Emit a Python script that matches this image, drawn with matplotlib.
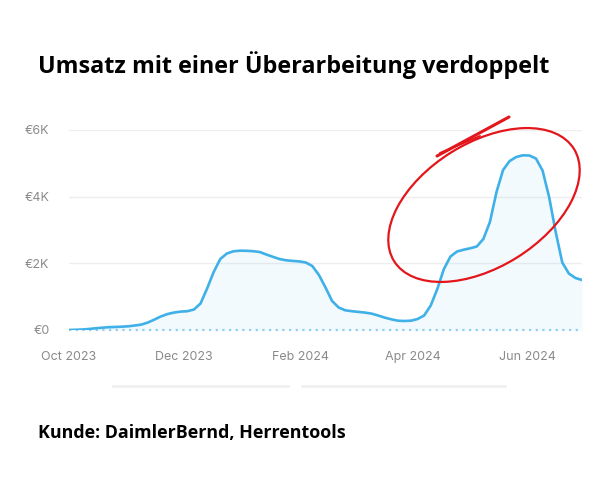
import pandas as pd
import matplotlib.pyplot as plt
from matplotlib.patches import Ellipse, Rectangle

start_date = "2023-10-01"
umsatz = [0, 6, 15, 30, 51, 69, 84, 90, 99, 111,
          135, 162, 225, 315, 408, 480, 525, 552, 564, 615,
          795, 1245, 1740, 2130, 2295, 2361, 2379, 2376, 2364, 2340,
          2265, 2196, 2130, 2091, 2073, 2058, 2025, 1920, 1650, 1275,
          870, 675, 591, 564, 543, 522, 492, 435, 372, 321,
          279, 270, 279, 330, 435, 735, 1230, 1830, 2205, 2355,
          2409, 2451, 2505, 2730, 3240, 4140, 4800, 5070, 5190, 5241,
          5235, 5145, 4785, 3990, 2940, 2025, 1695, 1560, 1500]
dates = pd.date_range(start_date, periods=len(umsatz), freq="84h")

y_ticks = [0, 2000, 4000, 6000]
y_labels = ["€0", "€2K", "€4K", "€6K"]
x_ticks = pd.to_datetime(["2023-10-01", "2023-12-01", "2024-02-01", "2024-04-01", "2024-06-01"])
x_labels = ["Oct 2023", "Dec 2023", "Feb 2024", "Apr 2024", "Jun 2024"]

title = "Umsatz mit einer Überarbeitung verdoppelt"
footer = "Kunde: DaimlerBernd, Herrentools"

line_col = "#3fb0e8"
red = "#e3161b"

fig = plt.figure(figsize=(6, 5), dpi=100)
fig.patch.set_facecolor("white")
ax = fig.add_axes([69 / 600, 170 / 500, 513 / 600, 200 / 500])

# Fläche + Linie
ax.fill_between(dates, umsatz, 0, color=line_col, alpha=0.06, linewidth=0)
ax.plot(dates, umsatz, color=line_col, linewidth=1.9, solid_joinstyle="round",
        solid_capstyle="round", zorder=3)

# Nulllinie gepunktet
ax.axhline(0, color="#8ccff0", linestyle=(0, (1, 2)), linewidth=1.6, clip_on=False, zorder=2)

ax.set_xlim(dates[0], dates[-1])
ax.set_ylim(0, 6000)

ax.set_yticks(y_ticks)
ax.set_yticklabels(y_labels)
ax.set_xticks(x_ticks)
ax.set_xticklabels(x_labels)

for lbl in ax.get_xticklabels() + ax.get_yticklabels():
    lbl.set_fontfamily("Inter")
    lbl.set_fontsize(9)
    lbl.set_color("#8a8a8a")

ax.tick_params(axis="both", length=0)
ax.tick_params(axis="x", pad=15)
ax.tick_params(axis="y", pad=14)

# Gitter (ohne Linie bei 0)
ax.grid(True, axis="y", color="#eeeeee", linewidth=1)
for gl, v in zip(ax.get_ygridlines(), y_ticks):
    if v == 0:
        gl.set_visible(False)
ax.set_axisbelow(True)

for s in ax.spines.values():
    s.set_visible(False)

# Titel und Fußzeile
fig.text(38 / 600, (500 - 73) / 500, title, fontfamily="Open Sans", fontweight="bold",
         fontsize=16.8, color="black", va="baseline", ha="left")
fig.text(38 / 600, (500 - 438) / 500, footer, fontfamily="Open Sans", fontweight="bold",
         fontsize=12.9, color="black", va="baseline", ha="left")

# graue Balken unterhalb der Achse (Zeitleisten-Reste)
for x0, x1 in [(112, 290), (301, 507)]:
    fig.patches.append(Rectangle((x0 / 100, (500 - 388) / 100), (x1 - x0) / 100, 0.03,
                                 transform=fig.dpi_scale_trans, color="#f1f1f1", linewidth=0))

# rote Handmarkierung
fig.patches.append(Ellipse((4.84, 2.95), 2.12, 1.24, angle=32, transform=fig.dpi_scale_trans,
                           fill=False, edgecolor=red, linewidth=1.6))
fig.lines.append(plt.Line2D([4.37, 5.09], [5 - 1.56, 5 - 1.17], transform=fig.dpi_scale_trans,
                            color=red, linewidth=2.2, solid_capstyle="round"))
fig.lines.append(plt.Line2D([4.40, 4.80], [5 - 1.53, 5 - 1.36], transform=fig.dpi_scale_trans,
                            color=red, linewidth=1.4, solid_capstyle="round"))

plt.savefig("out.png", dpi=100)
